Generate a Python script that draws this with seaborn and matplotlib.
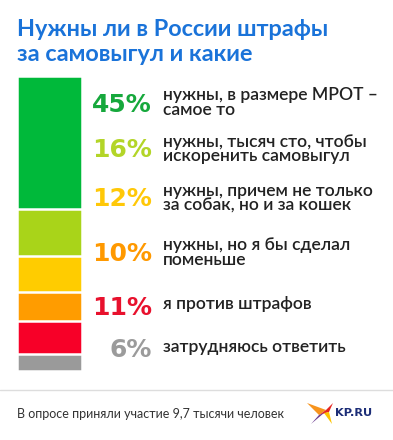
import matplotlib
matplotlib.use("Agg")
import matplotlib.pyplot as plt
import seaborn as sns
from matplotlib.patches import Polygon

sns.set_theme(style="white")
plt.rcParams['font.family'] = ['Lato', 'DejaVu Sans']

# ---- data ----
categories = [
    "нужны, в размере МРОТ –\nсамое то",
    "нужны, тысяч сто, чтобы\nискоренить самовыгул",
    "нужны, причем не только\nза собак, но и за кошек",
    "нужны, но я бы сделал\nпоменьше",
    "я против штрафов",
    "затрудняюсь ответить",
]
values = [45, 16, 12, 10, 11, 6]
pct_labels = ["45%", "16%", "12%", "10%", "11%", "6%"]
bar_colors = ["#00b93a", "#a9d419", "#ffcc00", "#ff9c00", "#f70028", "#9a9a9a"]
pct_colors = ["#16a83c", "#b3d528", "#ffc808", "#ff9900", "#e8112d", "#9b9b9b"]
title_lines = ["Нужны ли в России штрафы", "за самовыгул и какие"]
footer = "В опросе приняли участие 9,7 тысячи человек"

W, H = 393, 440
fig = plt.figure(figsize=(W / 100, H / 100), dpi=100)
fig.patch.set_facecolor("white")

# ---- stacked bar ----
x0, x1, y0, y1 = 16.75, 82.25, 76.0, 371.25
bax = fig.add_axes([x0 / W, 1 - y1 / H, (x1 - x0) / W, (y1 - y0) / H])
cums = []
s = 0
for v in values:
    s += v
    cums.append(s)
for cum, col in reversed(list(zip(cums, bar_colors))):
    sns.barplot(x=["a"], y=[cum], color=col, width=1, saturation=1,
                edgecolor="white", linewidth=1.8, ax=bax)
bax.set_xlim(-0.5, 0.5)
bax.set_ylim(sum(values), 0)
bax.axis("off")

# ---- overlay for text ----
ax = fig.add_axes([0, 0, 1, 1])
ax.set_xlim(0, W)
ax.set_ylim(H, 0)
ax.axis("off")
ax.patch.set_alpha(0)

title_color = "#1a73d9"
ax.text(17, 36, title_lines[0], fontsize=16.9, fontweight="bold", color=title_color, va="baseline", ha="left")
ax.text(17, 61, title_lines[1], fontsize=16.9, fontweight="bold", color=title_color, va="baseline", ha="left")

pct_baselines = [111.7, 157.3, 206.3, 260.7, 315, 357.3]
text_centers = [102.5, 149.3, 198.5, 252.5, 303.5, 347]
for lab, col, pb, cat, tc in zip(pct_labels, pct_colors, pct_baselines, categories, text_centers):
    ax.text(152, pb, lab, fontsize=18, fontweight="heavy", color=col, ha="right", va="baseline",
            family=["DejaVu Sans"])
    ax.text(163, tc, cat, fontsize=12.6, fontweight="semibold", color="#222222", ha="left",
            va="center", linespacing=0.86)

# footer
ax.plot([0, W], [390, 390], color="#dddddd", lw=1)
ax.text(17, 414, footer, fontsize=9.0, color="#333333", ha="left", va="center")

# logo
for pts, c in [
    ([(307, 403), (326, 410), (319, 415)], "#f7941d"),
    ([(319, 415), (326, 410), (333, 403), (329, 412)], "#e52521"),
    ([(319, 415), (324, 413), (311, 424)], "#6c3d91"),
    ([(324, 413), (329, 412), (332, 424)], "#fdc300"),
]:
    ax.add_patch(Polygon(pts, closed=True, color=c, lw=0))
ax.text(335, 413.5, "KP.RU", fontsize=8.2, fontweight="heavy", color="#1c2d77", ha="left", va="center",
        family=["DejaVu Sans"])

fig.savefig("out.png", dpi=100, facecolor="white")
